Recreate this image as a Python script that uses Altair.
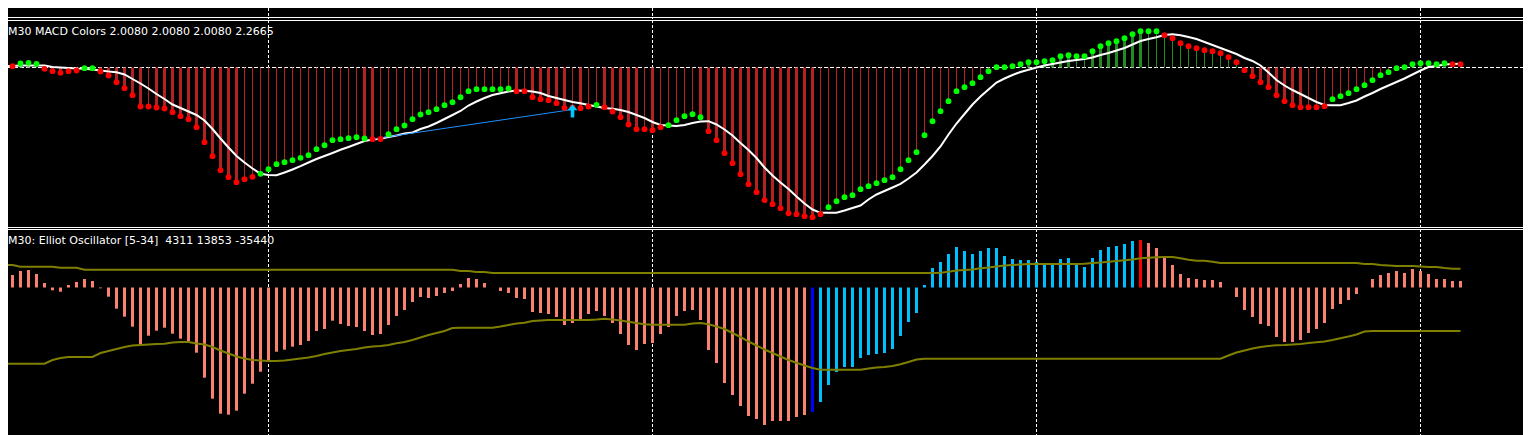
import altair as alt
import pandas as pd

# ---------------- data ----------------
macd_values = [
    1.3, 1.3, 4.0, 4.7, 3.7, -1.3, -3.7, -5.3, -3.7, -3.0,
    -0.7, -0.7, -4.0, -8.0, -14.7, -20.7, -27.7, -39.0, -39.0, -40.0,
    -41.0, -44.7, -48.7, -51.7, -59.7, -74.7, -88.7, -102.7, -109.7, -114.7,
    -111.7, -109.3, -106.3, -101.7, -96.7, -94.7, -92.7, -90.3, -87.7, -81.7,
    -77.7, -72.7, -71.7, -70.7, -69.7, -71.0, -71.7, -71.5, -66.7, -61.7,
    -58.0, -51.7, -47.0, -44.7, -41.7, -37.7, -34.7, -29.7, -23.7, -21.7,
    -21.7, -21.7, -21.7, -21.0, -23.7, -23.7, -29.7, -31.7, -32.7, -35.7,
    -40.3, -40.0, -40.7, -39.0, -37.3, -39.7, -44.0, -49.7, -57.0, -61.7,
    -61.7, -62.7, -59.7, -57.7, -52.7, -48.7, -46.7, -49.7, -63.7, -72.7,
    -85.7, -95.7, -106.7, -116.7, -124.7, -132.7, -136.7, -140.7, -145.7, -146.7,
    -148.7, -149.7, -146.7, -139.7, -133.7, -129.7, -127.7, -121.7, -118.7, -115.7,
    -112.7, -109.7, -101.7, -92.7, -84.7, -67.7, -53.7, -43.7, -33.7, -23.7,
    -19.7, -15.7, -9.7, -3.7, 0.3, 0.3, 1.3, 3.3, 5.3, 5.3,
    6.3, 7.3, 11.3, 12.3, 11.3, 11.3, 16.3, 21.3, 24.3, 26.3,
    29.3, 33.3, 36.3, 36.3, 36.3, 32.3, 29.3, 24.3, 21.3, 19.3,
    17.3, 16.3, 14.3, 10.3, 5.3, -2.7, -8.7, -14.7, -19.7, -27.7,
    -33.7, -37.7, -39.7, -39.7, -39.7, -38.7, -31.7, -28.7, -25.7, -21.7,
    -17.7, -12.7, -7.7, -4.7, -0.7, 0.3, 3.3, 4.3, 4.3, 3.3,
    4.3, 3.3, 3.3,
]

signal_values = [
    1.3, 1.5, 2.0, 2.0, 2.0, 2.0, 0.5, 0.0, -0.5, -1.0,
    -1.3, -2.0, -3.0, -4.0, -4.7, -7.0, -11.5, -16.0, -21.0, -26.5,
    -31.5, -37.0, -40.5, -44.0, -47.5, -53.0, -61.5, -71.0, -80.0, -88.5,
    -95.0, -101.0, -106.3, -107.5, -107.7, -105.0, -102.0, -98.7, -95.0, -91.5,
    -88.5, -85.5, -82.3, -79.5, -76.5, -73.5, -72.0, -71.3, -69.5, -68.0,
    -66.0, -65.0, -61.5, -59.0, -55.5, -51.5, -47.5, -43.5, -38.0, -34.0,
    -30.5, -27.5, -25.7, -24.0, -23.0, -23.3, -24.0, -25.5, -28.5, -30.5,
    -32.5, -34.5, -35.7, -37.5, -39.0, -40.5, -41.3, -42.5, -44.5, -47.5,
    -50.5, -54.5, -57.5, -58.0, -58.5, -57.5, -55.5, -54.0, -53.7, -57.0,
    -62.0, -68.0, -75.5, -82.5, -90.5, -100.0, -108.0, -115.0, -121.5, -129.0,
    -136.0, -142.0, -145.3, -145.3, -145.3, -143.0, -140.5, -138.0, -132.0, -127.0,
    -123.5, -120.0, -116.3, -111.0, -105.0, -97.0, -88.5, -79.0, -67.0, -56.0,
    -46.5, -37.0, -29.0, -22.0, -15.0, -11.0, -7.5, -4.5, -2.3, 0.0,
    2.0, 3.5, 5.0, 6.5, 7.5, 8.5, 10.0, 12.5, 14.5, 17.0,
    19.5, 23.0, 26.5, 28.5, 30.3, 32.5, 33.3, 32.3, 30.5, 28.5,
    25.5, 22.5, 19.5, 16.5, 13.5, 9.5, 6.5, 2.0, -5.0, -12.5,
    -18.0, -22.5, -26.5, -30.5, -34.5, -37.5, -37.7, -37.7, -35.5, -33.0,
    -29.0, -25.5, -21.5, -18.0, -14.5, -11.0, -7.0, -3.0, 0.5, 1.5,
    3.0, 3.5, 3.7,
]

# dot state runs: "g" = MACD above signal, "r" = below
dot_runs = [("r", 2), ("g", 3), ("r", 5), ("g", 2), ("r", 20), ("g", 14), ("r", 2),
            ("g", 16), ("r", 10), ("g", 1), ("r", 8), ("g", 5), ("r", 15), ("g", 42),
            ("r", 21), ("g", 15), ("r", 2)]

elliot_values = [
    11.5, 12.5, 16.5, 17.5, 13.5, 4.5, -2.8, -4.2, 2.5, 5.5,
    8.5, 6.5, -0.8, -9.2, -21.2, -29.2, -39.2, -56.5, -48.2, -43.2,
    -40.2, -46.2, -51.2, -53.5, -65.2, -90.2, -111.2, -126.2, -127.2, -123.2,
    -106.2, -96.2, -84.2, -73.2, -64.2, -62.2, -59.2, -57.5, -53.5, -43.5,
    -41.5, -33.2, -36.5, -38.5, -39.5, -43.5, -47.5, -46.5, -37.5, -28.5,
    -22.5, -14.5, -9.5, -10.5, -8.5, -5.5, -3.5, 3.5, 9.5, 8.5,
    4.5, 0.0, -3.5, -5.5, -10.5, -11.5, -24.5, -25.5, -26.5, -29.5,
    -37.5, -35.5, -32.5, -26.5, -23.5, -28.5, -35.5, -46.5, -57.5, -62.5,
    -56.5, -55.5, -46.5, -39.5, -28.5, -23.5, -22.5, -32.5, -62.5, -75.5,
    -95.5, -107.5, -118.5, -128.5, -131.5, -137.5, -133.5, -133.5, -133.5, -129.5,
    -127.5, -124.5, -114.5, -97.5, -84.5, -79.5, -79.5, -70.5, -67.5, -66.5,
    -65.5, -61.5, -48.5, -34.5, -25.5, 2.5, 19.5, 25.5, 33.5, 40.5,
    36.5, 33.5, 36.5, 39.5, 39.5, 31.5, 28.5, 27.5, 27.5, 25.5,
    23.5, 23.5, 28.5, 29.5, 23.5, 20.5, 29.5, 37.5, 40.5, 41.5,
    43.5, 46.5, 47.5, 44.5, 39.5, 29.5, 22.5, 13.5, 9.5, 8.5,
    7.5, 7.5, 5.5, 0.0, -9.5, -22.5, -29.5, -36.5, -38.5, -49.5,
    -54.5, -54.5, -52.5, -45.5, -41.5, -35.5, -21.5, -16.5, -12.5, -6.5,
    0.0, 8.5, 12.5, 14.5, 16.5, 14.5, 18.5, 16.5, 13.5, 8.5,
    8.5, 6.5, 6.5,
]

elliot_runs = [("fall", 101), ("turn_low", 1), ("rise", 40), ("turn_high", 1), ("fall", 40)]

upper_band = [
    22.5, 22.5, 20.8, 20.8, 20.8, 20.8, 20.8, 19.8, 19.8, 19.8,
    17.8, 17.8, 17.8, 17.8, 17.8, 17.8, 17.8, 17.8, 17.8, 17.8,
    17.8, 17.8, 17.8, 17.8, 17.8, 17.8, 17.8, 17.8, 17.8, 17.8,
    17.8, 17.8, 17.8, 17.8, 17.8, 17.8, 17.8, 17.8, 17.8, 17.8,
    17.8, 17.8, 17.8, 17.8, 17.8, 17.8, 17.8, 17.8, 17.8, 17.8,
    17.8, 17.8, 17.8, 17.8, 17.8, 17.8, 17.8, 16.5, 16.5, 15.5,
    15.5, 14.5, 14.5, 14.5, 14.5, 14.5, 14.5, 14.5, 14.5, 14.5,
    14.5, 14.5, 14.5, 14.5, 14.5, 14.5, 14.5, 14.5, 14.5, 14.5,
    14.5, 14.5, 14.5, 14.5, 14.5, 14.5, 14.5, 14.5, 14.5, 14.5,
    14.5, 14.5, 14.5, 14.5, 14.5, 14.5, 14.5, 14.5, 14.5, 14.5,
    14.5, 14.5, 14.5, 14.5, 14.5, 14.5, 14.5, 14.5, 14.5, 14.5,
    14.5, 14.5, 14.5, 14.5, 14.5, 14.5, 14.5, 14.8, 15.8, 17.0,
    17.5, 18.0, 19.2, 20.0, 21.0, 22.0, 22.5, 23.0, 23.5, 23.5,
    23.5, 23.5, 23.5, 23.5, 23.5, 23.8, 24.5, 25.0, 25.8, 26.5,
    27.2, 28.0, 29.2, 29.8, 30.2, 30.5, 30.5, 29.2, 27.8, 26.8,
    26.8, 25.8, 24.5, 24.5, 24.5, 24.5, 24.5, 24.5, 24.5, 24.5,
    24.5, 24.5, 24.5, 24.5, 24.5, 24.5, 24.5, 24.5, 24.5, 24.5,
    23.5, 23.5, 22.5, 22.0, 21.5, 21.5, 21.5, 21.0, 20.5, 20.5,
    19.5, 18.8, 18.8,
]

lower_band = [
    -76.2, -76.2, -76.2, -76.2, -76.2, -76.2, -72.5, -70.5, -69.5, -69.5,
    -69.5, -69.5, -65.5, -63.5, -61.5, -59.5, -58.0, -57.5, -57.0, -56.5,
    -56.2, -55.0, -54.5, -54.5, -56.0, -57.0, -59.5, -63.0, -66.0, -69.0,
    -71.0, -72.5, -73.0, -73.5, -73.5, -73.0, -72.0, -71.0, -70.0, -68.5,
    -66.5, -65.0, -63.5, -62.5, -61.5, -60.0, -59.0, -58.5, -57.5, -55.8,
    -54.5, -52.5, -50.0, -47.5, -45.5, -43.5, -40.5, -40.2, -40.2, -40.2,
    -40.2, -40.2, -39.0, -37.5, -36.0, -35.2, -33.5, -33.0, -32.5, -32.5,
    -32.5, -32.5, -32.5, -32.5, -32.0, -31.2, -32.0, -33.0, -34.2, -35.5,
    -36.8, -37.2, -37.2, -37.2, -37.2, -37.2, -36.0, -35.5, -36.8, -39.0,
    -41.5, -45.5, -49.5, -54.0, -58.0, -62.0, -65.5, -69.0, -72.5, -75.2,
    -78.0, -80.5, -82.2, -82.2, -82.2, -82.2, -82.2, -82.2, -81.0, -80.0,
    -79.5, -78.5, -76.8, -74.5, -72.0, -71.2, -71.2, -71.2, -71.2, -71.2,
    -71.2, -71.2, -71.2, -71.2, -71.2, -71.2, -71.2, -71.2, -71.2, -71.2,
    -71.2, -71.2, -71.2, -71.2, -71.2, -71.2, -71.2, -71.2, -71.2, -71.2,
    -71.2, -71.2, -71.2, -71.2, -71.2, -71.2, -71.2, -71.2, -71.2, -71.2,
    -71.2, -71.2, -71.2, -68.0, -65.0, -63.0, -61.0, -59.5, -58.5, -57.8,
    -57.5, -57.0, -56.5, -55.5, -54.8, -54.0, -52.5, -50.8, -49.0, -47.0,
    -44.0, -43.5, -43.5, -43.5, -43.5, -43.5, -43.5, -43.5, -43.5, -43.5,
    -43.5, -43.5, -43.5,
]

grid_bars = [33, 81, 129, 177]          # session separators
div_bars = [46, 71]                     # divergence trend line
div_values = [-71.5, -42.0]
arrow_bars = [71]                       # buy arrow
arrow_values = [-43.5]

macd_label = "M30 MACD Colors 2.0080 2.0080 2.0080 2.2665"
elliot_label = "M30: Elliot Oscillator [5-34]\u00a0\u00a04311 13853 -35440"

# ---------------- tables ----------------
n = len(macd_values)
assert len(signal_values) == n and len(elliot_values) == n
assert len(upper_band) == n and len(lower_band) == n
dots = [s for s, k in dot_runs for _ in range(k)]
estate = [s for s, k in elliot_runs for _ in range(k)]
assert len(dots) == n and len(estate) == n

bars = list(range(n))
macd_df = pd.DataFrame({"bar": bars, "macd": macd_values, "signal": signal_values, "dot": dots})
macd_df["zero"] = 0.0
grow = macd_df["macd"].abs() > macd_df["macd"].abs().shift(1)
macd_df["sw"] = grow.map({True: 3, False: 1})
macd_df["barcol"] = ["#B22222" if v < 0 else "#228B22" for v in macd_values]
macd_df["dotcol"] = macd_df["dot"].map({"r": "#FF0000", "g": "#00FF00"})

ell_df = pd.DataFrame({"bar": bars, "osc": elliot_values, "state": estate,
                       "upper": upper_band, "lower": lower_band})
ell_df["zero"] = 0.0
ell_df["col"] = ell_df["state"].map({"fall": "#FA8072", "turn_low": "#0000FF",
                                     "rise": "#00BFFF", "turn_high": "#FF0000"})

grid_df = pd.DataFrame({"bar": grid_bars})
div_df = pd.DataFrame({"bar": div_bars, "v": div_values})
arrow_df = pd.DataFrame({"bar": arrow_bars, "v": arrow_values})
one = pd.DataFrame({"k": [0]})

# ---------------- layout ----------------
W = 1515
H_STRIP, H_MACD, H_ELL = 11, 208, 206
XS = alt.Scale(domain=[0.4375, 0.4375 + W / 8], nice=False, zero=False)
X = alt.X("bar:Q", scale=XS, axis=None)
YM = alt.Scale(domain=[47.5 - H_MACD, 47.5], nice=False, zero=False)
YE = alt.Scale(domain=[58.5 - H_ELL, 58.5], nice=False, zero=False)
FONT = "DejaVu Sans"
ARROW = "M0,-1 L0.8,-0.1 L0.28,-0.1 L0.28,1 L-0.28,1 L-0.28,-0.1 L-0.8,-0.1 Z"


def grid():
    return alt.Chart(grid_df).mark_rule(color="white", strokeDash=[3, 2],
                                        strokeWidth=1, clip=True).encode(x=X)


def hline(y):
    return alt.Chart(one).mark_rule(color="white", strokeWidth=1, clip=True).encode(
        x=alt.value(0), x2=alt.value(W), y=alt.value(y))


def label(text):
    return alt.Chart(one).mark_text(align="left", baseline="middle", color="white",
                                    font=FONT, fontSize=11).encode(
        x=alt.value(0), y=alt.value(11.7), text=alt.value(text))


strip = alt.layer(grid(), hline(9.5)).properties(width=W, height=H_STRIP)

zero_line = alt.Chart(one).transform_calculate(z="0").mark_rule(
    color="white", strokeDash=[4, 2], strokeWidth=1, clip=True).encode(
    x=alt.value(0), x2=alt.value(W), y=alt.Y("z:Q", scale=YM, axis=None))

macd_bars = alt.Chart(macd_df).mark_rule(clip=True).encode(
    x=X, y=alt.Y("macd:Q", scale=YM, axis=None), y2="zero:Q",
    color=alt.Color("barcol:N", scale=None),
    strokeWidth=alt.StrokeWidth("sw:Q", scale=None))

signal_line = alt.Chart(macd_df).mark_line(color="white", strokeWidth=2, clip=True).encode(
    x=X, y=alt.Y("signal:Q", scale=YM, axis=None))

div_line = alt.Chart(div_df).mark_line(color="#1E90FF", strokeWidth=1, clip=True).encode(
    x=X, y=alt.Y("v:Q", scale=YM, axis=None))

macd_dots = alt.Chart(macd_df).mark_circle(size=34, opacity=1, clip=True).encode(
    x=X, y=alt.Y("macd:Q", scale=YM, axis=None),
    color=alt.Color("dotcol:N", scale=None))

arrow = alt.Chart(arrow_df).mark_point(shape=ARROW, filled=True, size=169, opacity=1,
                                       color="#00C8FF", strokeWidth=0).encode(
    x=X, y=alt.Y("v:Q", scale=YM, axis=None))

macd_panel = alt.layer(zero_line, grid(), hline(0.5), hline(207.5), macd_bars,
                       signal_line, div_line, macd_dots, arrow,
                       label(macd_label)).properties(width=W, height=H_MACD)

ell_bars = alt.Chart(ell_df).mark_rule(strokeWidth=3, clip=True).encode(
    x=X, y=alt.Y("osc:Q", scale=YE, axis=None), y2="zero:Q",
    color=alt.Color("col:N", scale=None))

upper_line = alt.Chart(ell_df).mark_line(color="#808000", strokeWidth=2, clip=True).encode(
    x=X, y=alt.Y("upper:Q", scale=YE, axis=None))
lower_line = alt.Chart(ell_df).mark_line(color="#808000", strokeWidth=2, clip=True).encode(
    x=X, y=alt.Y("lower:Q", scale=YE, axis=None))

ell_panel = alt.layer(grid(), hline(0.5), ell_bars, upper_line, lower_line,
                      label(elliot_label)).properties(width=W, height=H_ELL)

chart = alt.vconcat(strip, macd_panel, ell_panel, spacing=1).properties(
    background="black", padding=0).configure_view(strokeWidth=0)

chart.save("out.html", embed_options={"renderer": "svg", "actions": False})
